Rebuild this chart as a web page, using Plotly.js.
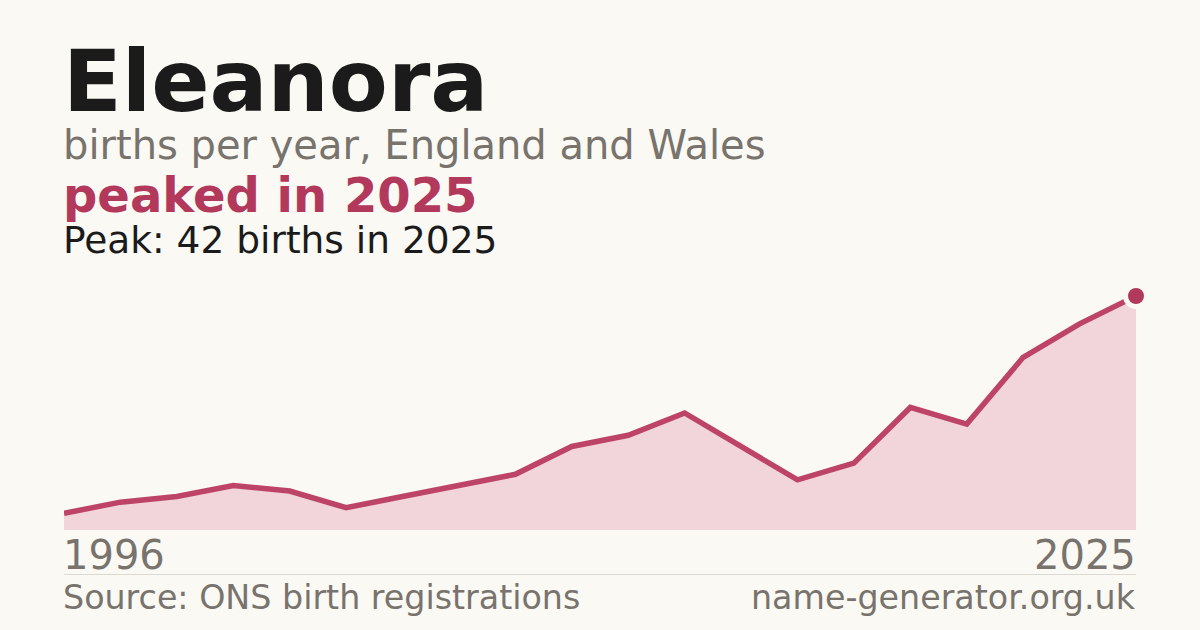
<!DOCTYPE html>
<html>
<head>
<meta charset="utf-8">
<script src="https://cdn.plot.ly/plotly-3.0.1.min.js"></script>
<style>
  html, body { margin: 0; padding: 0; background: #faf9f4; }
  #plot { width: 1200px; height: 630px; }
</style>
</head>
<body>
<div id="plot"></div>
<script>
// births per year (evenly spaced points, 1996 .. 2025)
var births = [3, 5, 6, 8, 7, 4, 6, 8, 10, 15, 17, 21, 15, 9, 12, 22, 19, 31, 37, 42];
var tickLabels = ["1996", "2025"];
var nameText = "Eleanora";
var subText = "births per year, England and Wales";
var peakText = "peaked in 2025";
var peakLine = "Peak: 42 births in 2025";
var sourceText = "Source: ONS birth registrations";
var siteText = "name-generator.org.uk";

var idx = [];
for (var i = 0; i < births.length; i++) {
  idx.push(i);
}
var last = births.length - 1;

var bg = "#faf9f4";
var red = "#b2395b";
var grey = "#78736c";

// pixel helpers (plot area is 64..1136 by 296..530)
var L = 64, R = 64, T = 296, B = 100;
function fy(py) { return (630 - B - py) / (630 - T - B); }
function fx(px) { return (px - L) / (1200 - L - R); }
function base(py, size) { return fy(py + 0.236 * size); }

var area = {
  x: idx,
  y: births,
  type: "scatter",
  mode: "lines",
  fill: "tozeroy",
  fillcolor: "#f1d5db",
  line: { color: "#bd4466", width: 5.5 },
  hoverinfo: "skip"
};

var peak = {
  x: [idx[last]],
  y: [births[last]],
  type: "scatter",
  mode: "markers",
  marker: { size: 21, color: red, line: { color: bg, width: 5 } },
  cliponaxis: false,
  hoverinfo: "skip"
};

var font = "DejaVu Sans";

var layout = {
  width: 1200,
  height: 630,
  paper_bgcolor: bg,
  plot_bgcolor: bg,
  showlegend: false,
  margin: { l: L, r: R, t: T, b: B, pad: 0 },
  xaxis: { range: [0, last], showgrid: false, zeroline: false, showticklabels: false, showline: false, fixedrange: true },
  yaxis: { range: [0, 42], showgrid: false, zeroline: false, showticklabels: false, showline: false, fixedrange: true },
  shapes: [
    { type: "line", xref: "paper", yref: "paper", x0: 0, x1: 1, y0: fy(574.5), y1: fy(574.5),
      line: { color: "#dcd9d3", width: 1 } }
  ],
  annotations: [
    { text: "<b>" + nameText + "</b>", x: fx(62), y: base(112, 86), font: { family: font, size: 86, color: "#1b1b1b" } },
    { text: subText, x: fx(62), y: base(160, 40), font: { family: font, size: 40, color: grey } },
    { text: "<b>" + peakText + "</b>", x: fx(62), y: base(213, 48), font: { family: font, size: 48, color: red } },
    { text: peakLine, x: fx(62), y: base(254, 37.5), font: { family: font, size: 37.5, color: "#1b1b1b" } },
    { text: tickLabels[0], x: fx(62), y: base(570, 40), font: { family: font, size: 40, color: grey } },
    { text: tickLabels[1], x: fx(1137), y: base(570, 40), xanchor: "right", font: { family: font, size: 40, color: grey } },
    { text: sourceText, x: fx(62), y: base(610, 33.3), font: { family: font, size: 33.3, color: grey } },
    { text: siteText, x: fx(1137), y: base(610, 33.3), xanchor: "right", font: { family: font, size: 33.3, color: grey } }
  ].map(function (a) {
    return Object.assign({ xref: "paper", yref: "paper", xanchor: "left", yanchor: "bottom",
      showarrow: false, borderpad: 0, align: "left" }, a);
  })
};

Plotly.newPlot("plot", [area, peak], layout, { staticPlot: true, displayModeBar: false });
</script>
</body>
</html>
